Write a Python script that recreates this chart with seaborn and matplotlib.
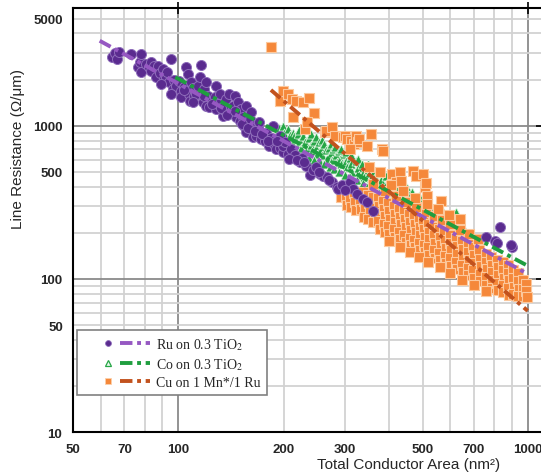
import matplotlib
matplotlib.use("Agg")
import matplotlib.pyplot as plt
from matplotlib.lines import Line2D
from matplotlib.legend_handler import HandlerBase
import pandas as pd
import seaborn as sns

# ---- Ru on 0.3 TiO2 (area nm^2, resistance ohm/um) ----
ru_x = [64.5, 65.8, 66.5, 67.5, 73.2, 76.5, 77.5, 78.2, 78.2, 80.9, 82.5, 83.5, 83.5, 85.0, 86.3,
        87.3, 88.5, 90.2, 91.0, 92.2, 93.0, 94.2, 95.3, 96.3, 97.0, 98.5, 100.5, 101.8, 101.8, 103.5,
        105.2, 106.3, 107.0, 107.6, 108.8, 110.0, 111.1, 112.4, 113.6, 115.0, 116.2, 117.4, 118.7, 120.0,
        120.0, 121.5, 122.7, 124.5, 126.9, 128.3, 128.3, 129.6, 131.5, 133.9, 135.5, 136.9, 140.0, 141.5,
        143.2, 144.8, 146.3, 148.0, 149.6, 149.6, 151.3, 153.0, 154.5, 156.5, 156.5, 160.0, 160.0, 161.8,
        163.4, 163.4, 165.5, 167.3, 168.8, 170.6, 172.5, 176.5, 178.5, 182.3, 184.0, 186.4, 188.0, 190.5,
        194.8, 196.0, 199.2, 199.2, 202.0, 205.8, 210.0, 215.0, 222.3, 226.0, 232.5, 237.8, 243.0, 248.0,
        254.0, 260.0, 265.6, 274.7, 283.8, 287.0, 295.0, 309.7, 317.0, 323.7, 338.4, 346.0, 361.0,
        89.0, 95.0, 104.0, 110.0, 118.0, 125.0, 132.0, 138.0, 145.0, 152.0, 158.0, 166.0, 174.0, 180.0,
        192.0, 207.0, 218.0, 229.0, 252.0, 270.0, 300.0,
        760, 832, 808, 816, 901, 895]
ru_y = [2790, 2980, 2720, 3040, 2940, 2400, 2600, 2940, 2230, 2530, 2420, 2590, 2285, 2460, 2070,
        2460, 2200, 2340, 2010, 2070, 2250, 1920, 2720, 1740, 2000, 1820, 1950, 1690, 1530, 1800,
        2400, 2170, 1620, 1455, 1920, 1750, 1570, 1610, 1820, 2070, 2490, 1420, 1735, 1920,
        1351, 1560, 1316, 1450, 1530, 1824, 1284, 1390, 1600, 1162, 1260, 1492, 1610, 1220,
        1351, 1570, 1134, 1420, 1251, 1078, 1284, 1134, 990, 1351, 905, 1052, 1105, 1223,
        928, 840, 1010, 861, 976, 1052, 820, 797, 900, 740, 830, 1000, 760, 705,
        861, 720, 670, 740, 780, 654, 700, 640, 577, 620, 549, 474, 511, 540,
        486, 470, 461, 427, 396, 386, 410, 427, 386, 359, 333, 317, 279,
        1880, 1600, 1700, 1420, 1560, 1380, 1300, 1180, 1240, 1020, 960, 930, 880, 800,
        790, 610, 600, 580, 500, 440, 380,
        188, 218, 177, 172, 162, 167]

# ---- Co on 0.3 TiO2 ----
co_x = [190, 194, 197, 199, 202, 201, 206, 209, 211, 213, 216, 218, 214, 220, 223, 225, 221, 228, 231, 233,
        229, 236, 239, 241, 237, 240, 244, 247, 249, 245, 248, 253, 256, 258, 254, 257, 261, 264, 266, 262,
        270, 273, 275, 271, 274, 278, 282, 284, 279, 281, 288, 291, 293, 289, 292, 298, 302, 304, 299, 301,
        310, 313, 315, 309, 312, 322, 326, 328, 324, 327, 335, 339, 341, 337, 348, 351, 353, 347, 350, 362,
        366, 368, 364, 377, 381, 383, 378, 380, 392, 396, 398, 394, 407, 411, 413, 409, 410, 422, 426, 428,
        424, 437, 441, 443, 439, 452, 456, 458, 454, 467, 471, 473, 469, 487, 491, 493, 489, 507, 511, 513,
        509, 527, 531, 533, 529, 547, 551, 553, 549, 572, 576, 578, 597, 601, 603, 624, 627, 648, 652]
co_y = [975, 960, 880, 990, 830, 900, 950, 870, 780, 900, 820, 740, 860, 880, 790, 720, 940, 860, 780, 700,
        650, 830, 750, 680, 620, 880, 800, 720, 650, 600, 850, 780, 700, 640, 580, 810, 760, 690, 610, 560,
        720, 660, 600, 540, 760, 700, 640, 580, 520, 730, 680, 610, 560, 500, 700, 650, 590, 540, 480, 670,
        620, 560, 500, 460, 640, 590, 530, 480, 440, 610, 560, 510, 460, 420, 540, 490, 440, 400, 560, 510,
        460, 420, 380, 490, 440, 400, 360, 500, 470, 420, 380, 345, 440, 400, 360, 330, 450, 420, 385, 345,
        315, 410, 370, 335, 305, 390, 355, 320, 295, 370, 340, 305, 280, 350, 320, 290, 265, 330, 305, 275,
        255, 310, 290, 262, 245, 290, 275, 250, 232, 275, 258, 238, 262, 245, 225, 272, 235, 225, 212]

# ---- Cu on 1 Mn*/1 Ru ----
cu_x = [184, 195, 199, 206, 212, 213, 217, 227, 237, 245, 230, 234, 263, 265, 276, 280, 296, 300, 303, 313,
        318, 323, 327, 330, 346, 355, 310, 384, 385, 351, 377, 410, 421, 430, 435, 470, 478, 500, 508, 512,
        516, 564, 641,
        290, 292, 298, 301, 303, 308, 311, 313, 318, 321, 323, 328, 331, 333, 338, 341, 343, 339, 348, 351,
        353, 349, 360, 363, 365, 361, 373, 376, 378, 374, 377, 386, 389, 391, 387, 390, 398, 401, 403, 399,
        402, 413, 416, 418, 414, 417, 428, 431, 433, 429, 432, 443, 446, 448, 444, 447, 458, 461, 463, 459,
        462, 473, 476, 478, 474, 477, 488, 491, 493, 489, 492, 503, 506, 508, 504, 507, 518, 521, 523, 519,
        522, 538, 541, 543, 539, 542, 558, 561, 563, 559, 562, 578, 581, 583, 579, 582, 598, 601, 603, 599,
        602, 623, 626, 628, 624, 627, 648, 651, 653, 649, 652, 673, 676, 678, 674, 677, 698, 701, 703, 699,
        702, 728, 731, 733, 729, 732, 758, 761, 763, 759, 762, 788, 791, 793, 789, 792, 818, 821, 823, 819,
        822, 848, 851, 853, 849, 852, 878, 881, 883, 879, 882, 908, 911, 913, 909, 938, 941, 943, 939, 968,
        971, 973, 988, 991, 993,
        400, 430, 460, 490, 520, 560, 600, 650, 700, 760,
        360, 390, 420, 450, 480, 510, 540, 570, 600, 640, 680, 720,
        405, 440, 475, 515, 555, 595]
cu_y = [3250, 1455, 1692, 1610, 1491, 1134, 1455, 1420, 1509, 1211, 951, 1052, 905, 928, 976, 861, 840, 861, 819, 797,
        760, 861, 779, 819, 740, 880, 705, 705, 687, 535, 496, 485, 427, 496, 438, 509, 470, 485, 396, 420,
        349, 324, 247,
        398, 343, 390, 344, 305, 375, 331, 293, 362, 319, 283, 365, 323, 285, 367, 324, 288, 254, 355, 314,
        278, 246, 341, 301, 267, 236, 339, 300, 268, 238, 213, 325, 288, 257, 228, 204, 314, 278, 248, 220,
        197, 300, 266, 237, 211, 189, 288, 255, 227, 202, 181, 277, 245, 219, 194, 174, 265, 235, 210, 186,
        167, 255, 227, 202, 179, 161, 247, 219, 195, 173, 155, 238, 211, 188, 167, 150, 229, 204, 181, 161,
        144, 219, 195, 173, 154, 138, 211, 187, 167, 148, 133, 202, 179, 160, 142, 127, 195, 173, 154, 137,
        122, 185, 164, 146, 130, 116, 176, 156, 139, 124, 111, 169, 150, 133, 118, 106, 162, 144, 128, 114,
        102, 154, 136, 122, 108, 97, 146, 130, 116, 103, 92, 140, 124, 111, 98, 88, 134, 119, 106, 94,
        85, 129, 114, 102, 91, 82, 124, 110, 98, 87, 79, 115, 101, 89, 80, 110, 97, 86, 77, 98,
        86, 77, 93, 83, 76,
        177, 162, 150, 139, 130, 119, 110, 99, 92, 84,
        415, 377, 347, 319, 296, 275, 257, 241, 228, 210, 196, 183,
        412, 373, 340, 309, 284, 261]

# Power-law fits (straight on log-log axes): end points
ru_fit_x = [59.5, 1000]
ru_fit_y = [3580, 108]
co_fit_x = [98, 1000]
co_fit_y = [2070, 122]
cu_fit_x = [184, 1000]
cu_fit_y = [1710, 62]

labels = ["Ru on 0.3 TiO$_2$", "Co on 0.3 TiO$_2$", "Cu on 1 Mn*/1 Ru"]

x_major = [100, 1000]
x_minor = [50, 60, 70, 80, 90, 200, 300, 400, 500, 600, 700, 800, 900]
x_minor_labels = ["50", "", "70", "", "", "200", "300", "", "500", "", "700", "", ""]
y_major = [10, 100, 1000]
y_minor = [20, 30, 40, 50, 60, 70, 80, 90, 200, 300, 400, 500, 600, 700, 800, 900,
           2000, 3000, 4000, 5000]
y_minor_labels = ["", "", "", "50", "", "", "", "", "", "", "", "500", "", "", "", "",
                  "", "", "", "5000"]

sns.set_theme(style="white")
plt.rcParams["font.family"] = ["Liberation Sans", "DejaVu Sans"]
plt.rcParams["mathtext.fontset"] = "stix"

RU_PT, RU_LN = "#5a2b8f", "#9658c2"
CO_PT, CO_LN = "#26a646", "#1f9e3f"
CU_PT, CU_LN = "#f5883a", "#c2521e"
DASH = (0, (3.2, 1.2, 1.0, 1.2))

fig = plt.figure(figsize=(5.41, 4.77), dpi=100)
ax = fig.add_axes([0.1355, 0.0916, 0.8665, 0.8889])
ax.set_xscale("log")
ax.set_yscale("log")

co_df = pd.DataFrame({"area": co_x, "res": co_y})
cu_df = pd.DataFrame({"area": cu_x, "res": cu_y})
ru_df = pd.DataFrame({"area": ru_x, "res": ru_y})

sns.scatterplot(data=co_df, x="area", y="res", ax=ax, marker="^", s=42,
                color=CO_PT, edgecolor="#d9f2de", linewidth=0.6, zorder=3)
sns.scatterplot(data=cu_df, x="area", y="res", ax=ax, marker="s", s=46,
                color=CU_PT, edgecolor="#fcc89c", linewidth=0.8, zorder=3)
sns.scatterplot(data=ru_df, x="area", y="res", ax=ax, marker="o", s=52,
                color=RU_PT, edgecolor="#8e6cba", linewidth=0.7, zorder=4)

for fx, fy, c in [(co_fit_x, co_fit_y, CO_LN), (ru_fit_x, ru_fit_y, RU_LN), (cu_fit_x, cu_fit_y, CU_LN)]:
    sns.lineplot(x=fx, y=fy, ax=ax, color=c, linewidth=2.8, linestyle=DASH,
                 estimator=None, errorbar=None, sort=False, zorder=5)

ax.set_xlim(50, 1100)
ax.set_ylim(10, 5830)

ax.set_xticks(x_major, [str(v) for v in x_major])
ax.set_xticks(x_minor, x_minor_labels, minor=True)
ax.set_yticks(y_major, [str(v) for v in y_major])
ax.set_yticks(y_minor, y_minor_labels, minor=True)

ax.grid(which="major", color="#8a8a8a", linewidth=1.3, zorder=0)
ax.grid(which="minor", color="#d2d2d2", linewidth=1.3, zorder=0)
ax.set_axisbelow(True)

ax.tick_params(which="major", direction="inout", length=9, width=1.2, color="black",
               right=True, top=True, pad=3.5, labelsize=9.5)
ax.tick_params(which="minor", direction="out", length=4, width=1.1, color="black",
               pad=3.5, labelsize=9.5)
for lab in ax.get_xticklabels(which="both") + ax.get_yticklabels(which="both"):
    lab.set_fontweight("bold")

for sp in ax.spines.values():
    sp.set_color("black")
    sp.set_linewidth(1.5)

ax.set_xlabel("Total Conductor Area (nm²)", fontsize=11)
ax.set_ylabel("Line Resistance (Ω/μm)", fontsize=11)
ax.xaxis.set_label_coords(0.716, -0.058)
ax.yaxis.set_label_coords(-0.104, 0.67)


class MarkerThenLine(HandlerBase):
    def create_artists(self, legend, orig_handle, xdescent, ydescent, width, height, fontsize, trans):
        mk, ln = orig_handle
        y = height / 2 - ydescent
        x0 = -xdescent
        m = Line2D([x0 + 0.37 * width], [y])
        m.update_from(mk)
        m.set_transform(trans)
        line = Line2D([x0 + 0.55 * width, x0 + width], [y, y])
        line.update_from(ln)
        line.set_transform(trans)
        return [m, line]


handles = [
    (Line2D([], [], marker="o", ls="none", ms=4.2, mfc=RU_PT, mec="#8e6cba", mew=0.6),
     Line2D([], [], color=RU_LN, lw=2.8, ls=DASH)),
    (Line2D([], [], marker="^", ls="none", ms=4.2, mfc="#e9f7ec", mec=CO_PT, mew=0.9),
     Line2D([], [], color=CO_LN, lw=2.8, ls=DASH)),
    (Line2D([], [], marker="s", ls="none", ms=4.2, mfc=CU_PT, mec="#fcd0aa", mew=0.6),
     Line2D([], [], color=CU_LN, lw=2.8, ls=DASH)),
]
leg = ax.legend(handles, labels, handler_map={tuple: MarkerThenLine()},
                loc="lower left", bbox_to_anchor=(0.0085, 0.088), borderaxespad=0,
                prop={"family": ["Liberation Serif", "DejaVu Serif"], "size": 10},
                handlelength=4.8, handletextpad=0.45, labelspacing=0.3, borderpad=0.45,
                frameon=True, fancybox=False, framealpha=1, facecolor="white",
                edgecolor="#808080")
leg.get_frame().set_linewidth(1.2)
leg.set_zorder(10)

fig.savefig("out.png", dpi=100)
